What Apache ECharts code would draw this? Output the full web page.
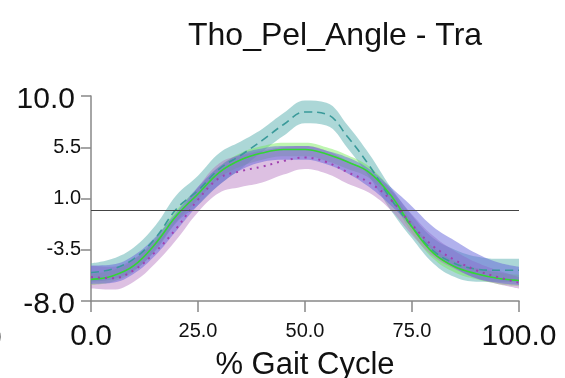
<!DOCTYPE html>
<html>
<head>
<meta charset="utf-8">
<script src="https://cdn.jsdelivr.net/npm/echarts@6/dist/echarts.min.js"></script>
<style>
  html, body { margin: 0; padding: 0; background: #fff; }
  #main { width: 565px; height: 378px; }
</style>
</head>
<body>
<div id="main"></div>
<script>
// % gait cycle
var pct = [0, 5, 10, 15, 20, 25, 30, 35, 40, 45, 50, 55, 60, 65, 70, 75, 80, 85, 90, 95, 100];
var yTicks = [-8, -3.5, 1, 5.5, 10];

// teal dashed
var tealMean = [-5.5, -5.2, -4.3, -2.5, 0.1, 1.7, 3.6, 4.8, 6.1, 7.5, 8.6, 8.4, 6.4, 3.9, 1.0, -1.5, -3.6, -4.7, -5.2, -5.3, -5.3];
var tealSd   = [0.8, 0.9, 1.0, 1.1, 1.2, 1.3, 1.4, 1.2, 1.0, 1.0, 1.0, 1.0, 1.0, 1.0, 1.0, 1.0, 1.1, 1.2, 1.1, 1.0, 1.0];
// green solid
var greenMean = [-6.1, -5.8, -4.9, -3.0, -0.5, 1.4, 3.3, 4.4, 5.0, 5.3, 5.3, 4.9, 4.2, 3.3, 1.3, -1.5, -3.8, -5.0, -5.6, -6.0, -6.2];
var greenSd   = [0.5, 0.5, 0.5, 0.5, 0.5, 0.5, 0.5, 0.6, 0.6, 0.6, 0.6, 0.6, 0.6, 0.5, 0.5, 0.5, 0.5, 0.5, 0.5, 0.5, 0.5];
// purple dotted
var purpleMean = [-5.9, -6.0, -5.3, -3.7, -1.6, 0.9, 2.8, 3.4, 3.8, 4.3, 4.6, 4.2, 3.3, 2.4, 0.9, -1.3, -3.2, -4.4, -5.3, -5.9, -6.4];
var purpleSd   = [1.0, 1.0, 1.0, 1.0, 1.0, 1.1, 1.3, 1.4, 1.4, 1.2, 1.0, 1.0, 1.0, 0.9, 0.9, 0.9, 0.9, 0.8, 0.7, 0.6, 0.5];
// blue band
var blueMean = [-5.7, -5.6, -4.8, -3.2, -1.0, 1.2, 3.0, 4.2, 4.8, 5.0, 5.0, 4.6, 3.9, 2.8, 1.2, -0.6, -2.6, -3.9, -4.9, -5.5, -5.8];
var blueSd   = [0.8, 0.8, 0.8, 0.8, 0.8, 0.8, 0.8, 0.7, 0.6, 0.6, 0.6, 0.6, 0.7, 0.8, 0.8, 0.9, 1.1, 1.2, 1.1, 0.9, 0.8];

// lower edge (invisible) + width stacked on it
function band(name, mean, sd, color) {
  var lo = mean.map(function (m, i) { return +(m - sd[i]).toFixed(2); });
  var w = sd.map(function (s) { return +(2 * s).toFixed(2); });
  return [
    { name: name + '_lo', type: 'line', stack: name, stackStrategy: 'all', data: lo, symbol: 'none', smooth: 0.4,
      lineStyle: { opacity: 0 }, silent: true, z: 1 },
    { name: name + '_band', type: 'line', stack: name, stackStrategy: 'all', data: w, symbol: 'none', smooth: 0.4,
      lineStyle: { opacity: 0 }, areaStyle: { color: color, opacity: 1 }, silent: true, z: 1 }
  ];
}

function meanLine(name, mean, color, type, width) {
  return { name: name, type: 'line', data: mean, symbol: 'none', smooth: 0.4, z: 3,
    lineStyle: { color: color, width: width, type: type } };
}

var series = [].concat(
  band('teal', tealMean, tealSd, 'rgba(90,175,175,0.5)'),
  band('green', greenMean, greenSd, 'rgba(110,235,80,0.45)'),
  band('purple', purpleMean, purpleSd, 'rgba(175,105,185,0.42)'),
  band('blue', blueMean, blueSd, 'rgba(100,100,220,0.5)'),
  [
    meanLine('teal', tealMean, '#3a9a9a', [8, 5], 1.6),
    meanLine('green', greenMean, '#33d633', 'solid', 1.6),
    meanLine('purple', purpleMean, '#a040b0', [2, 5], 2)
  ]
);
series[series.length - 3].markLine = {
  silent: true, symbol: 'none', label: { show: false },
  lineStyle: { color: '#444', type: 'solid', width: 1 },
  data: [{ yAxis: 0 }]
};

var fnt = 'Liberation Sans, Arial, sans-serif';
var myChart = echarts.init(document.getElementById('main'));
myChart.setOption({
  animation: false,
  textStyle: { fontFamily: fnt },
  title: {
    text: 'Tho_Pel_Angle - Tra', left: 183, top: 15,
    textStyle: { fontSize: 32, fontWeight: 'normal', color: '#111', fontFamily: fnt }
  },
  grid: { left: 91, right: 46, top: 96, bottom: 77, outerBoundsMode: 'none', containLabel: false },
  xAxis: {
    type: 'category', boundaryGap: false, data: pct.map(String),
    name: '% Gait Cycle', nameLocation: 'middle', nameGap: 49, nameMoveOverlap: false,
    nameTextStyle: { fontSize: 31, color: '#111', fontFamily: fnt },
    axisLine: { onZero: false, lineStyle: { color: '#888', width: 1.5 } },
    axisTick: { interval: 4, length: 11, lineStyle: { color: '#888', width: 1.5 } },
    splitLine: { show: false },
    axisLabel: {
      interval: 4, margin: 20, color: '#111', verticalAlign: 'top',
      formatter: function (v) {
        var n = Number(v);
        return (n === 0 || n === 100) ? '{b|' + n.toFixed(1) + '}' : '{s|' + n.toFixed(1) + '}';
      },
      rich: { b: { fontSize: 30, fontFamily: fnt, padding: [1, 0, 0, 0] }, s: { fontSize: 20, fontFamily: fnt } }
    }
  },
  yAxis: {
    type: 'value', min: -8, max: 10,
    axisLine: { show: true, lineStyle: { color: '#888', width: 1.5 } },
    axisTick: { show: true, customValues: yTicks, length: 10, lineStyle: { color: '#888', width: 1.5 } },
    splitLine: { show: false },
    axisLabel: {
      customValues: yTicks, margin: 10, color: '#111',
      formatter: function (v) {
        return (v === -8 || v === 10) ? '{b|' + v.toFixed(1) + '}' : '{s|' + v.toFixed(1) + '}';
      },
      rich: { b: { fontSize: 30, fontFamily: fnt, padding: [8, 6, 0, 0] }, s: { fontSize: 20, fontFamily: fnt } }
    }
  },
  graphic: [
    { type: 'text', left: -15, top: 324, style: { text: '0', font: '30px ' + fnt, fill: '#111' } }
  ],
  series: series
});
</script>
</body>
</html>
